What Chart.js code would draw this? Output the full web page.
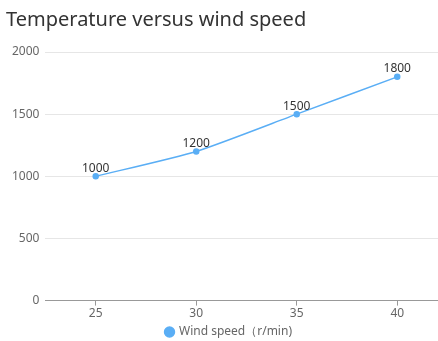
<!DOCTYPE html>
<html>
<head>
<meta charset="utf-8">
<script src="https://cdn.jsdelivr.net/npm/chart.js@4/dist/chart.umd.min.js"></script>
<style>
  html, body { margin: 0; padding: 0; background: #fff; overflow: hidden; }
  #wrap { position: relative; width: 452px; height: 348px; }
</style>
</head>
<body>
<div id="wrap"><canvas id="chart"></canvas></div>
<script>
  // chart data
  const speeds = ['25', '30', '35', '40'];
  const temps = [1000, 1200, 1500, 1800];
  const seriesName = 'Wind speed\uFF08r/min)';
  const yTicks = [0, 500, 1000, 1500, 2000];

  const LINE = '#5aaef5';
  const FONT = "'Noto Sans', 'DejaVu Sans', sans-serif";

  // draws the value above each point
  const valueLabels = {
    id: 'valueLabels',
    afterDatasetsDraw(chart) {
      const ctx = chart.ctx;
      const meta = chart.getDatasetMeta(0);
      ctx.save();
      ctx.font = '12px ' + FONT;
      ctx.fillStyle = '#333';
      ctx.textAlign = 'center';
      ctx.textBaseline = 'bottom';
      meta.data.forEach((pt, i) => {
        ctx.fillText(String(temps[i]), pt.x, pt.y - 2);
      });
      ctx.restore();
    }
  };

  new Chart(document.getElementById('chart'), {
    type: 'line',
    data: {
      labels: speeds,
      datasets: [{
        label: seriesName,
        data: temps,
        borderColor: LINE,
        backgroundColor: LINE,
        borderWidth: 1.5,
        pointRadius: 2.5,
        pointHoverRadius: 3,
        tension: 0.2,
        fill: false
      }]
    },
    options: {
      responsive: true,
      maintainAspectRatio: false,
      animation: false,
      layout: { padding: { left: 6, right: 0, top: 0, bottom: 0 } },
      plugins: {
        title: {
          display: true,
          text: 'Temperature versus wind speed',
          align: 'start',
          color: '#333',
          font: { family: FONT, size: 20, weight: 'normal' },
          padding: { top: 8, bottom: 20 }
        },
        legend: {
          position: 'bottom',
          labels: {
            usePointStyle: true,
            pointStyle: 'circle',
            boxWidth: 7,
            boxHeight: 7,
            color: '#666',
            font: { family: FONT, size: 12 },
            padding: 4
          }
        },
        tooltip: { enabled: false }
      },
      scales: {
        x: {
          offset: true,
          grid: { display: true, drawOnChartArea: false, drawTicks: true, tickLength: 5, color: '#999' },
          border: { color: '#999' },
          ticks: { color: '#666', font: { family: FONT, size: 12 }, padding: 1 }
        },
        y: {
          min: 0,
          max: 2000,
          afterBuildTicks(axis) { axis.ticks = yTicks.map(v => ({ value: v })); },
          grid: { color: '#e6e6e6', drawTicks: false },
          border: { display: false },
          ticks: {
            color: '#666',
            font: { family: FONT, size: 12 },
            padding: 6,
            callback: v => String(v)
          }
        }
      }
    },
    plugins: [valueLabels]
  });
</script>
</body>
</html>
